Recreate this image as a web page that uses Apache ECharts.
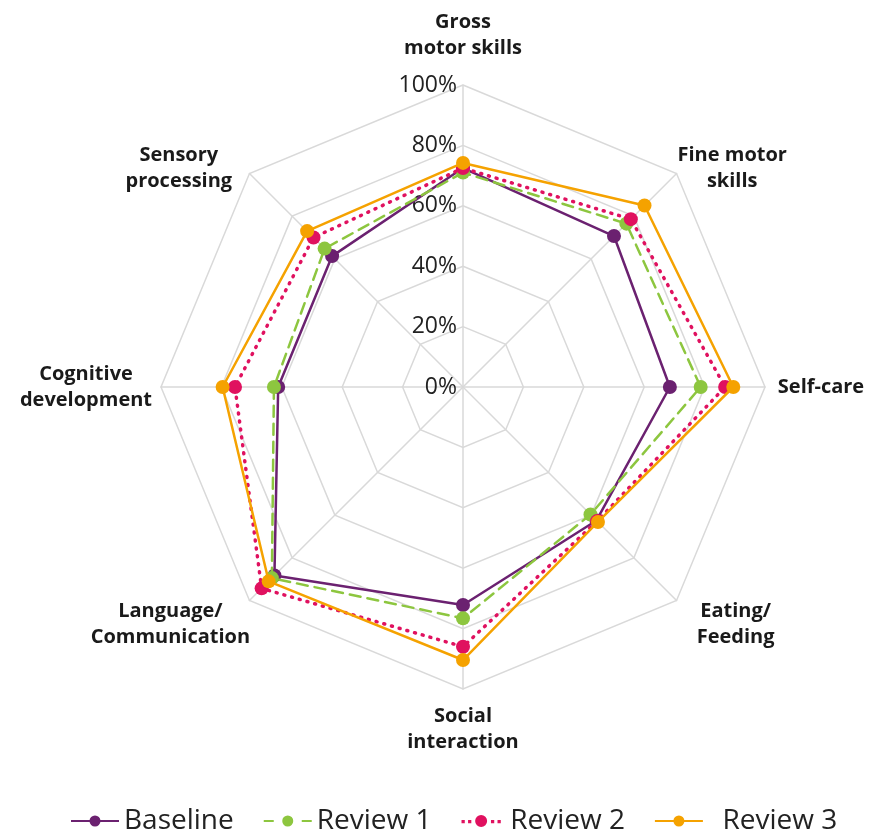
<!DOCTYPE html>
<html><head><meta charset="utf-8">
<script src="https://cdn.jsdelivr.net/npm/echarts@6/dist/echarts.min.js"></script>
<style>html,body{margin:0;padding:0;background:#fff}#c{width:877px;height:835px}</style>
</head><body><div id="c"></div>
<script>
// Categories listed clockwise from top (as in the picture)
const categories = ['Gross\nmotor skills','Fine motor\nskills','Self-care','Eating/\nFeeding','Social\ninteraction','Language/\nCommunication','Cognitive\ndevelopment','Sensory\nprocessing'];
const seriesNames = ['Baseline','Review 1','Review 2','Review 3'];
const baseline = [72.5, 70.7, 68.5, 62.5, 72.2, 88.3, 61.2, 61.3];
const review1  = [71.0, 76.5, 78.7, 59.7, 76.6, 89.5, 62.6, 64.8];
const review2  = [72.5, 78.6, 86.8, 62.8, 86.0, 94.3, 75.5, 70.0];
const review3  = [74.2, 85.0, 89.5, 63.2, 90.4, 91.0, 79.6, 73.0];
const tickValues = [0, 20, 40, 60, 80, 100];

const colors = ['#6B2170', '#8DC63F', '#E0115F', '#F5A200'];
const FONT = '"Open Sans", "Noto Sans", sans-serif';

// label nudges per category, clockwise order
const namePadding = [[0,0,10,0],[0,0,0,100],[0,0,0,84],[0,0,0,70],[0,0,0,0],[0,110,0,0],[0,122,0,0],[0,130,0,0]];
const nameGaps = [14, 8, 14, 34, 14, 34, 14, 8];

// ECharts radar runs counter-clockwise; reorder clockwise data
const order = [0, 7, 6, 5, 4, 3, 2, 1];
const reorder = arr => order.map(i => arr[i]);

const indicators = order.map((ci, i) => {
  const o = { name: categories[ci], min: 0, max: 100, nameGap: nameGaps[ci],
    nameTextStyle: { padding: namePadding[ci] } };
  if (i === 0) o.axisLabel = { show: true, formatter: '{value}%', fontSize: 23, color: '#222', fontFamily: FONT, margin: 6 };
  return o;
});

const icons = [
  'path://M0,5H48V7H0Z M24,0.5A5.5,5.5 0 1,1 23.99,0.5Z',
  'path://M0,5H10V7H0Z M38,5H48V7H38Z M24,0.5A5.5,5.5 0 1,1 23.99,0.5Z',
  'path://M6,5H9V8H6Z M12,5H15V8H12Z M33,5H36V8H33Z M39,5H42V8H39Z M24,0.5A5.5,5.5 0 1,1 23.99,0.5Z',
  'path://M0,5H48V7H0Z M24,0.5A5.5,5.5 0 1,1 23.99,0.5Z'
];
const lineTypes = ['solid', [11, 7], [1, 7], 'solid'];
const allData = [baseline, review1, review2, review3];

const chart = echarts.init(document.getElementById('c'));
chart.setOption({
  animation: false,
  color: colors,
  legend: {
    bottom: -5, left: 66,
    itemWidth: 48, itemHeight: 12, itemGap: 30,
    textStyle: { fontSize: 28, color: '#222', fontFamily: FONT },
    formatter: n => (n === 'Review 3' ? '  ' + n : n),
    data: seriesNames.map((n, i) => ({ name: n, icon: icons[i] }))
  },
  radar: {
    center: [463, 387], radius: 302,
    startAngle: 90, shape: 'polygon', splitNumber: 5,
    indicator: indicators,
    nameGap: 14,
    axisName: { color: '#1a1a1a', fontSize: 20, fontWeight: 'bold', fontFamily: FONT, lineHeight: 26, align: 'center' },
    axisLine: { lineStyle: { color: '#d9d9d9', width: 1.5 } },
    splitLine: { lineStyle: { color: '#d9d9d9', width: 1.5 } },
    splitArea: { show: false },
    axisLabel: { show: false },
    axisTick: { show: false }
  },
  series: allData.map((d, i) => ({
    type: 'radar',
    name: seriesNames[i],
    symbol: 'circle', symbolSize: 14,
    lineStyle: { color: colors[i], width: i === 2 ? 3.5 : 2.5, type: lineTypes[i], cap: 'round' },
    itemStyle: { color: colors[i] },
    z: 2 + i,
    data: [{ value: reorder(d), name: seriesNames[i] }]
  }))
});
</script></body></html>
